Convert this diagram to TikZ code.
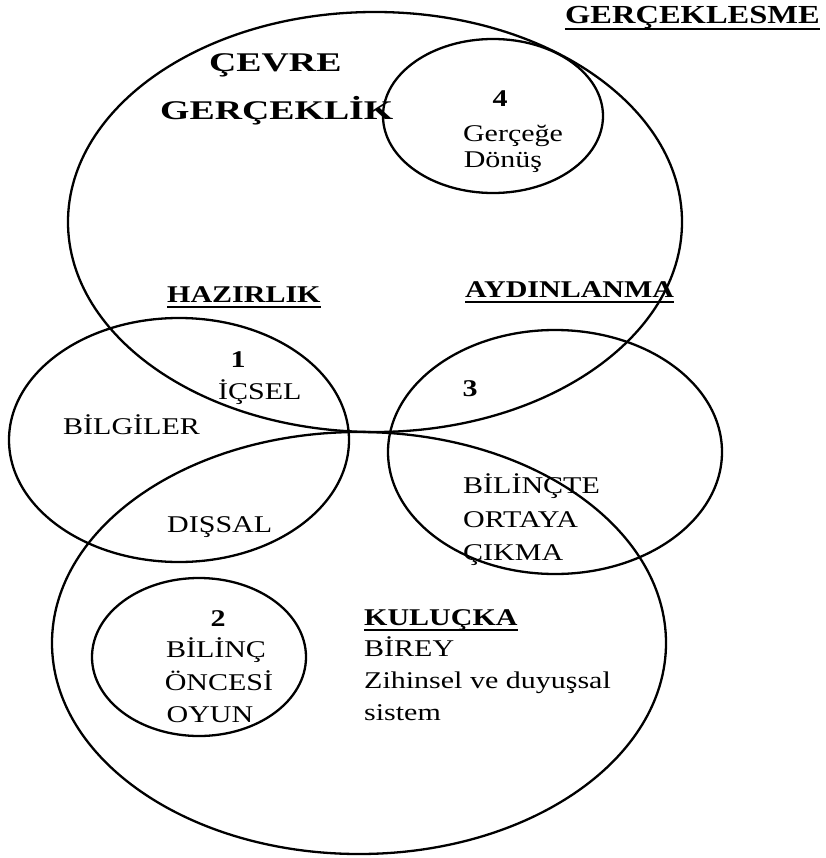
\documentclass[tikz,border=0pt]{standalone}
\usepackage{fontspec}
\setmainfont{Liberation Serif}
\newfontfamily\wideR[FakeStretch=1.25]{Liberation Serif}
\newfontfamily\wideBig[FakeStretch=1.4]{Liberation Serif}
\begin{document}
\begin{tikzpicture}[x=1pt,y=-1pt,
  ring/.style={line width=2.3pt},
  uline/.style={line width=1.6pt},
  lbl/.style={inner sep=0pt, font=\wideR\fontsize{24}{24}\selectfont},
  blbl/.style={inner sep=0pt, font=\wideR\bfseries\fontsize{24}{24}\selectfont},
  titlelbl/.style={inner sep=0pt, font=\wideR\bfseries\fontsize{26}{26}\selectfont},
  biglbl/.style={inner sep=0pt, font=\wideBig\bfseries\fontsize{27}{27}\selectfont},
  numlbl/.style={inner sep=0pt, font=\wideR\bfseries\fontsize{24}{24}\selectfont}]
\useasboundingbox (0,0) rectangle (825,858);
% ellipses
\draw[ring] (375,222) ellipse [x radius=307, y radius=210];
\draw[ring] (493,116) ellipse [x radius=110, y radius=77];
\draw[ring] (179,440) ellipse [x radius=170, y radius=122];
\draw[ring] (555,452) ellipse [x radius=167, y radius=122];
\draw[ring] (359,643) ellipse [x radius=307, y radius=211];
\draw[ring] (199,657) ellipse [x radius=107, y radius=79];
% top labels
\node[titlelbl, anchor=base east] (gercek) at (820,24) {GERÇEKLESME};
\draw[uline] ([yshift=-5pt]gercek.base west) -- ([yshift=-5pt]gercek.base east);
\node[biglbl, anchor=base west] (cevre) at (209,72) {ÇEVRE};
\node[biglbl, anchor=base west] (gerceklik) at (160,120) {GERÇEKLİK};
\node[numlbl, anchor=base] (n4) at (500,107) {4};
\node[lbl, anchor=base] (gercege) at (513,142) {Gerçeğe};
\node[lbl, anchor=base] (donus) at (503,168) {Dönüş};
% middle labels
\node[blbl, anchor=base west] (hazir) at (167,302) {HAZIRLIK};
\draw[uline] ([yshift=-5pt]hazir.base west) -- ([yshift=-5pt]hazir.base east);
\node[blbl, anchor=base west] (aydin) at (465,297) {AYDINLANMA};
\draw[uline] ([yshift=-5pt]aydin.base west) -- ([yshift=-5pt]aydin.base east);
\node[numlbl, anchor=base] (n1) at (238,367) {1};
\node[lbl, anchor=base west] (icsel) at (218,399) {İÇSEL};
\node[lbl, anchor=base west] (bilgiler) at (63,434) {BİLGİLER};
\node[lbl, anchor=base west] (dissal) at (167,532) {DIŞSAL};
\node[numlbl, anchor=base] (n3) at (470,396) {3};
\node[lbl, anchor=base west] (bilincte) at (463,493) {BİLİNÇTE};
\node[lbl, anchor=base west] (ortaya) at (463,527) {ORTAYA};
\node[lbl, anchor=base west] (cikma) at (463,560) {ÇIKMA};
% bottom labels
\node[numlbl, anchor=base] (n2) at (218,626) {2};
\node[lbl, anchor=base] (bilinc) at (216,657) {BİLİNÇ};
\node[lbl, anchor=base] (oncesi) at (219,690) {ÖNCESİ};
\node[lbl, anchor=base] (oyun) at (210,722) {OYUN};
\node[blbl, anchor=base west] (kulucka) at (364,625) {KULUÇKA};
\draw[uline] ([yshift=-5pt]kulucka.base west) -- ([yshift=-5pt]kulucka.base east);
\node[lbl, anchor=base west] (birey) at (364,656) {BİREY};
\node[lbl, anchor=base west] (zihinsel) at (364,688) {Zihinsel ve duyuşsal};
\node[lbl, anchor=base west] (sistem) at (364,720) {sistem};
\end{tikzpicture}
\end{document}
